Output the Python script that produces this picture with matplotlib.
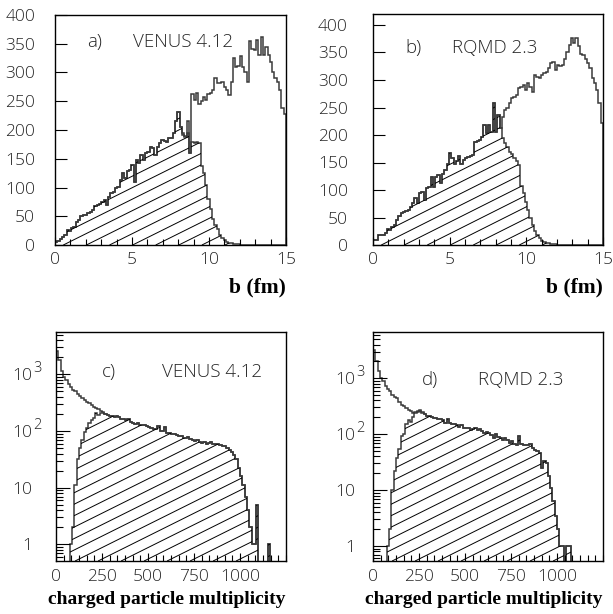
import numpy as np
import matplotlib
matplotlib.use("Agg")
import matplotlib.pyplot as plt
import matplotlib.transforms as mtransforms
from matplotlib.collections import LineCollection
from matplotlib.path import Path
from matplotlib.ticker import MultipleLocator, FixedLocator, LogLocator, NullFormatter

# impact parameter distributions, 100 bins of 0.15 fm
b_edges = np.linspace(0, 15, 101)

venus_b_all = [5, 7, 10, 14, 18, 26, 24, 29, 32, 40,
               43, 50, 52, 52, 55, 58, 61, 67, 70, 72,
               75, 78, 70, 84, 90, 93, 100, 101, 113, 125,
               116, 128, 130, 139, 110, 148, 142, 157, 148, 160,
               162, 171, 168, 157, 171, 177, 183, 181, 180, 186,
               186, 194, 215, 232, 205, 195, 190, 215, 160, 262,
               252, 264, 246, 250, 258, 252, 262, 265, 270, 290,
               281, 281, 284, 275, 270, 261, 284, 325, 310, 312,
               328, 310, 300, 284, 354, 340, 339, 357, 331, 362,
               331, 345, 330, 318, 301, 290, 284, 270, 238, 228]
# central selection differs from the full sample from bin 54 on
venus_b_sel_tail = [205, 192, 188, 195, 160, 180, 178, 180, 178, 138,
                    125, 105, 80, 62, 45, 35, 27, 17, 12, 9,
                    6, 4, 3, 2, 1, 1] + [0] * 20

rqmd_b_all = [10, 10, 18, 18, 18, 21, 30, 27, 33, 36,
              45, 52, 58, 60, 61, 64, 70, 76, 85, 76,
              94, 97, 82, 103, 106, 124, 106, 124, 127, 112,
              130, 136, 148, 167, 158, 148, 152, 161, 148, 155,
              158, 160, 161, 164, 188, 190, 191, 197, 218, 203,
              218, 206, 258, 206, 236, 212, 233, 245, 250, 258,
              267, 270, 273, 285, 288, 291, 282, 294, 288, 279,
              309, 306, 303, 309, 312, 315, 321, 330, 333, 318,
              327, 325, 327, 339, 350, 364, 376, 367, 376, 361,
              348, 345, 339, 330, 321, 303, 295, 282, 258, 221]
# from bin 56 on
rqmd_b_sel_tail = [195, 185, 178, 170, 165, 158, 152, 145, 108, 95,
                   78, 64, 50, 36, 25, 18, 12, 8, 5, 4,
                   3, 2, 1, 1] + [0] * 20

# charged multiplicity, 100 bins of 12.5
n_edges = np.linspace(0, 1250, 101)

venus_n_all = [2600, 1800, 1150, 900, 800, 680, 600, 540, 500, 455,
               420, 385, 350, 325, 310, 290, 270, 255, 242, 228,
               215, 200, 192, 188, 182, 176, 185, 178, 162, 165,
               160, 162, 145, 140, 132, 138, 130, 128, 126, 122,
               120, 114, 111, 108, 122, 101, 100, 118, 93, 92,
               90, 90, 85, 81, 83, 77, 76, 78, 72, 70,
               68, 69, 63, 62, 64, 60, 62, 64, 58, 59,
               58, 57, 55, 54, 50, 47, 42, 38, 32, 22,
               16, 11, 7, 4, 2, 1, 1, 5, 0, 0,
               0, 0, 1, 0, 0, 0, 0, 0, 0, 0]
# first 22 bins of the central selection, above that it is the full sample
venus_n_sel_head = [0, 0, 0, 0, 0, 0, 1, 2, 11, 32,
                    50, 70, 95, 115, 140, 160, 172, 205, 190, 205,
                    205, 198]

rqmd_n_all = [3200, 2000, 1350, 1000, 880, 720, 640, 590, 510, 470,
              440, 380, 330, 316, 295, 265, 255, 240, 250, 262,
              268, 245, 225, 215, 208, 200, 195, 192, 190, 185,
              182, 160, 188, 160, 153, 150, 148, 134, 145, 130,
              128, 130, 121, 125, 130, 118, 122, 113, 106, 108,
              104, 98, 86, 100, 90, 86, 80, 84, 78, 70,
              74, 68, 65, 92, 66, 65, 65, 63, 66, 56,
              52, 50, 46, 25, 33, 31, 18, 11, 6.5, 3.5,
              2, 1, 1, 0, 1, 1, 0, 0, 0, 0,
              0, 0, 0, 0, 0, 0, 0, 0, 0, 0]
rqmd_n_sel_head = [0, 0, 0, 0, 0, 0, 1, 2, 10, 22,
                   38, 55, 92, 100, 150, 182, 168, 200, 235, 250,
                   262, 240]

venus_b_sel = venus_b_all[:54] + venus_b_sel_tail
rqmd_b_sel = rqmd_b_all[:56] + rqmd_b_sel_tail
venus_n_sel = venus_n_sel_head + venus_n_all[22:]
rqmd_n_sel = rqmd_n_sel_head + rqmd_n_all[22:]

TXT = '#262626'
SANS = 'Open Sans'
SW = 'light'
LINE = '#3a3a3a'
PX = 0.72  # points per pixel at 100 dpi

fig = plt.figure(figsize=(6.13, 6.14), dpi=100)
W, H = 613.0, 614.0


def add_axes(x0, y0, x1, y1):
    return fig.add_axes([x0 / W, 1 - y1 / H, (x1 - x0) / W, (y1 - y0) / H])


def hatch(ax, edges, vals, floor, phase):
    v = np.maximum(np.asarray(vals, float), floor)
    xs = np.repeat(edges, 2)
    ys = np.concatenate([[floor], np.repeat(v, 2), [floor]])
    verts = np.column_stack([xs, ys])
    clip = Path(np.vstack([verts, verts[:1]]), closed=True)
    segs = [[(x0, 0), (x0 + 2, 1)] for x0 in np.arange(phase - 2.0, 1.05, 0.1)]
    lc = LineCollection(segs, colors='k', linewidths=0.7, transform=ax.transAxes)
    lc.set_clip_path(clip, ax.transData)
    ax.add_collection(lc, autolim=False)
    lc.set_clip_box(ax.bbox)


def frame(ax):
    for s in ax.spines.values():
        s.set_linewidth(1.0)
        s.set_color('k')
    ax.tick_params(which='both', direction='in', top=False, right=False,
                   colors='k', labelcolor=TXT, width=0.8)


def style_labels(ax):
    for t in ax.get_xticklabels() + ax.get_yticklabels():
        t.set_fontfamily(SANS)
        t.set_fontweight(SW)
        t.set_fontsize(12.5)


def name_tags(ax, label, model, tx, ty, mx):
    for x, s in [(tx, label), (mx, model)]:
        ax.text(x, ty, s, transform=ax.transAxes, fontsize=13.5, family=SANS,
                weight=SW, color=TXT, va='center')


def b_panel(ax, tot, sel, ymax, label, model, lpad, tx, ty, mx):
    ax.stairs(tot, b_edges, color=LINE, lw=1.1)
    ax.stairs(sel, b_edges, color=LINE, lw=1.1)
    ax.set_xlim(0, 15)
    ax.set_ylim(0, ymax)
    hatch(ax, b_edges, sel, 0, 0.036)
    frame(ax)
    ax.xaxis.set_major_locator(FixedLocator([0, 5, 10, 15]))
    ax.xaxis.set_minor_locator(MultipleLocator(1))
    ax.yaxis.set_major_locator(MultipleLocator(50))
    ax.xaxis.set_tick_params(which='major', length=8 * PX, pad=5.0)
    ax.xaxis.set_tick_params(which='minor', length=6 * PX)
    ax.yaxis.set_tick_params(which='major', length=12 * PX, pad=lpad)
    style_labels(ax)
    name_tags(ax, label, model, tx, ty, mx)


def n_panel(ax, tot, sel, ylim, label, model, lpad, tx, ty, mx):
    low = 1e-2
    t = np.where(np.asarray(tot, float) > 0, tot, low)
    s = np.where(np.asarray(sel, float) > 0, sel, low)
    ax.set_yscale('log')
    ax.stairs(t, n_edges, baseline=low, color=LINE, lw=1.1)
    ax.stairs(s, n_edges, baseline=low, color=LINE, lw=1.1)
    ax.set_xlim(0, 1250)
    ax.set_ylim(*ylim)
    hatch(ax, n_edges, sel, ylim[0], 0.083)
    frame(ax)
    ax.xaxis.set_major_locator(FixedLocator([0, 250, 500, 750, 1000]))
    ax.xaxis.set_minor_locator(MultipleLocator(1250 / 30))
    ax.set_yticks([1, 10, 100, 1000])
    ax.set_yticklabels(['1', '10', '10', '10'])
    ax.yaxis.set_minor_locator(LogLocator(base=10, subs=np.arange(2, 10)))
    ax.yaxis.set_minor_formatter(NullFormatter())
    ax.xaxis.set_tick_params(which='major', length=8 * PX, pad=6.0)
    ax.xaxis.set_tick_params(which='minor', length=6 * PX)
    ax.yaxis.set_tick_params(which='major', length=14 * PX, pad=lpad)
    ax.yaxis.set_tick_params(which='minor', length=7 * PX)
    style_labels(ax)
    base = mtransforms.blended_transform_factory(ax.transAxes, ax.transData)
    for val, sup in [(100, '2'), (1000, '3')]:
        tr = base + mtransforms.ScaledTranslation((-lpad + 1.2) / 72, 4 / 72,
                                                  fig.dpi_scale_trans)
        ax.text(0, val, sup, transform=tr, fontsize=10.5, family=SANS,
                weight=SW, color=TXT, ha='left', va='center')
    name_tags(ax, label, model, tx, ty, mx)


ax_a = add_axes(55, 15, 286, 245)
b_panel(ax_a, venus_b_all, venus_b_sel, 400, 'a)', 'VENUS 4.12', 14.4,
        0.139, 0.883, 0.338)
ax_b = add_axes(373, 14, 603, 245)
b_panel(ax_b, rqmd_b_all, rqmd_b_sel, 420, 'b)', 'RQMD 2.3', 18.0,
        0.139, 0.853, 0.343)
ax_c = add_axes(56, 332, 286, 561)
n_panel(ax_c, venus_n_all, venus_n_sel, (0.51, 5600), 'c)', 'VENUS 4.12', 17.3,
        0.20, 0.825, 0.461)
ax_d = add_axes(373, 332, 603, 561)
n_panel(ax_d, rqmd_n_all, rqmd_n_sel, (0.54, 6700), 'd)', 'RQMD 2.3', 13.0,
        0.213, 0.79, 0.457)

serif = dict(family='Liberation Serif', weight='bold', color='k')
fig.text(286 / W, 1 - 287 / H, 'b (fm)', ha='right', va='center', fontsize=15.5, **serif)
fig.text(603 / W, 1 - 287 / H, 'b (fm)', ha='right', va='center', fontsize=15.5, **serif)
fig.text(285 / W, 1 - 600 / H, 'charged particle multiplicity', ha='right', va='center',
         fontsize=14, **serif)
fig.text(602 / W, 1 - 600 / H, 'charged particle multiplicity', ha='right', va='center',
         fontsize=14, **serif)

fig.savefig('out.png', dpi=100)
